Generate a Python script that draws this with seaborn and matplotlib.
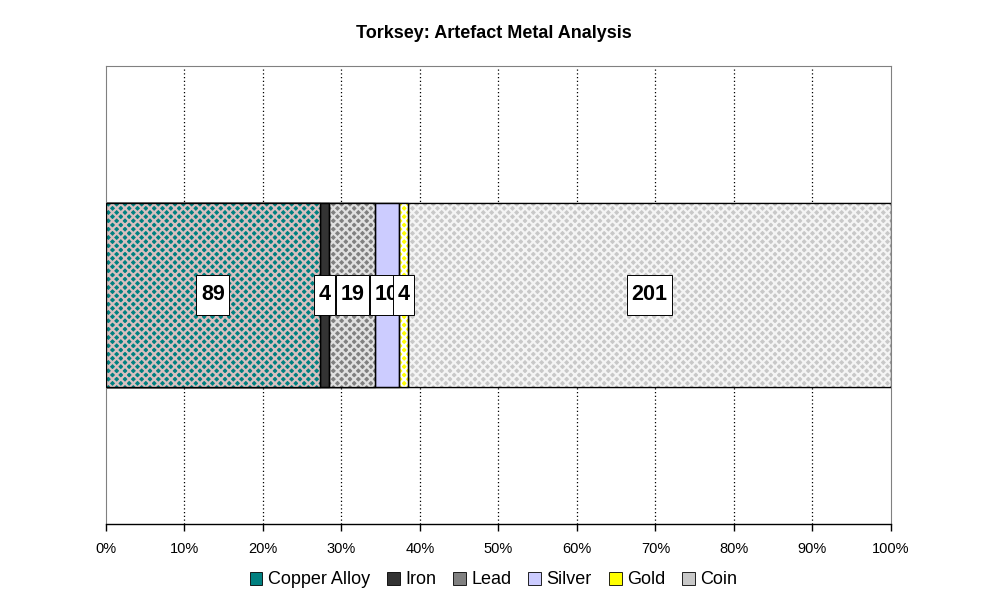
import matplotlib
matplotlib.use("Agg")
import matplotlib.pyplot as plt
import seaborn as sns
import pandas as pd
import numpy as np
from matplotlib.patches import Patch, Rectangle

categories = ["Copper Alloy", "Iron", "Lead", "Silver", "Gold", "Coin"]
counts = [89, 4, 19, 10, 4, 201]
face_colors = ["#008080", "#333333", "#808080", "#ccccff", "#ffff00", "#c8c8c8"]
hatch_colors = ["#d8c0c0", None, "#e0e0e0", None, "#ffffff", "#f4f4f4"]
hatches = ["xxxx", None, "xxxx", None, "xxxx", "xxxx"]
xticks = [0, 10, 20, 30, 40, 50, 60, 70, 80, 90, 100]
xtick_labels = ["0%", "10%", "20%", "30%", "40%", "50%", "60%", "70%", "80%", "90%", "100%"]

sns.set_theme(style="white")
plt.rcParams["font.family"] = ["Liberation Sans", "DejaVu Sans"]
plt.rcParams["hatch.linewidth"] = 1.6
plt.rcParams["text.color"] = "black"
plt.rcParams["xtick.color"] = "black"
plt.rcParams["xtick.labelcolor"] = "black"

total = sum(counts)
pct = [c / total * 100 for c in counts]
cum = list(np.cumsum(pct))
lefts = [0] + cum[:-1]

fig = plt.figure(figsize=(9.87, 6.05), dpi=100)
ax = fig.add_axes([106 / 987, 1 - 524 / 605, 785 / 987, 458 / 605])

for x in xticks[1:-1]:
    ax.axvline(x, color="black", linestyle=(0, (1, 2)), linewidth=0.9, zorder=0)

for i in reversed(range(len(categories))):
    df = pd.DataFrame({"row": ["Torksey"], "value": [cum[i]]})
    sns.barplot(data=df, x="value", y="row", orient="h", width=0.4,
                color=face_colors[i], saturation=1, edgecolor="black",
                linewidth=0.9, ax=ax, zorder=2)
    if hatches[i]:
        sns.barplot(data=df, x="value", y="row", orient="h", width=0.4,
                    fill=False, hatch=hatches[i], edgecolor=hatch_colors[i],
                    linewidth=0, ax=ax, zorder=2)
for i in range(len(categories)):
    ax.barh(0, pct[i], left=lefts[i], height=0.4, fill=False,
            edgecolor="black", linewidth=0.9, zorder=3)

ax.set_xlim(0, 100)
ax.set_ylim(0.5, -0.5)

texts = []
for i in range(len(categories)):
    cx = lefts[i] + pct[i] / 2
    t = ax.text(cx, 0, str(counts[i]), ha="center", va="center", fontsize=15.5,
                fontweight="bold", color="black", zorder=5 + 2 * i + 1)
    texts.append(t)

fig.canvas.draw()
renderer = fig.canvas.get_renderer()
inv = ax.transData.inverted()
for i, t in enumerate(texts):
    bb = t.get_window_extent(renderer)
    cxd, cyd = ax.transData.transform((lefts[i] + pct[i] / 2, 0))
    w = bb.width + 9
    h = 40
    (x0, y0) = inv.transform((cxd - w / 2, cyd - h / 2))
    (x1, y1) = inv.transform((cxd + w / 2, cyd + h / 2))
    ax.add_patch(Rectangle((x0, min(y0, y1)), x1 - x0, abs(y1 - y0),
                           facecolor="white", edgecolor="black", linewidth=0.7,
                           zorder=5 + 2 * i))

ax.set_xticks(xticks)
ax.set_xticklabels(xtick_labels, fontsize=10.5, color="black")
ax.set_yticks([])
ax.set_xlabel("")
ax.set_ylabel("")
ax.tick_params(axis="x", direction="out", length=5, width=1, color="black",
               bottom=True, pad=8)
for s in ["top", "right", "left"]:
    ax.spines[s].set_color("#808080")
    ax.spines[s].set_linewidth(0.8)
ax.spines["bottom"].set_color("black")
ax.spines["bottom"].set_linewidth(1)

fig.suptitle("Torksey: Artefact Metal Analysis", fontsize=13, fontweight="bold",
             y=1 - 33 / 605, va="center", color="black")

handles = []
for i in range(len(categories)):
    handles.append(Patch(facecolor=face_colors[i], edgecolor="black", linewidth=0.6,
                         label=categories[i]))
leg = fig.legend(handles=handles, loc="center", bbox_to_anchor=(0.5, 1 - 580 / 605),
                 ncol=6, frameon=False, fontsize=13, handlelength=0.7,
                 handleheight=0.7, handletextpad=0.3, columnspacing=0.95)
for t in leg.get_texts():
    t.set_color("black")

fig.savefig("out.png", dpi=100)
